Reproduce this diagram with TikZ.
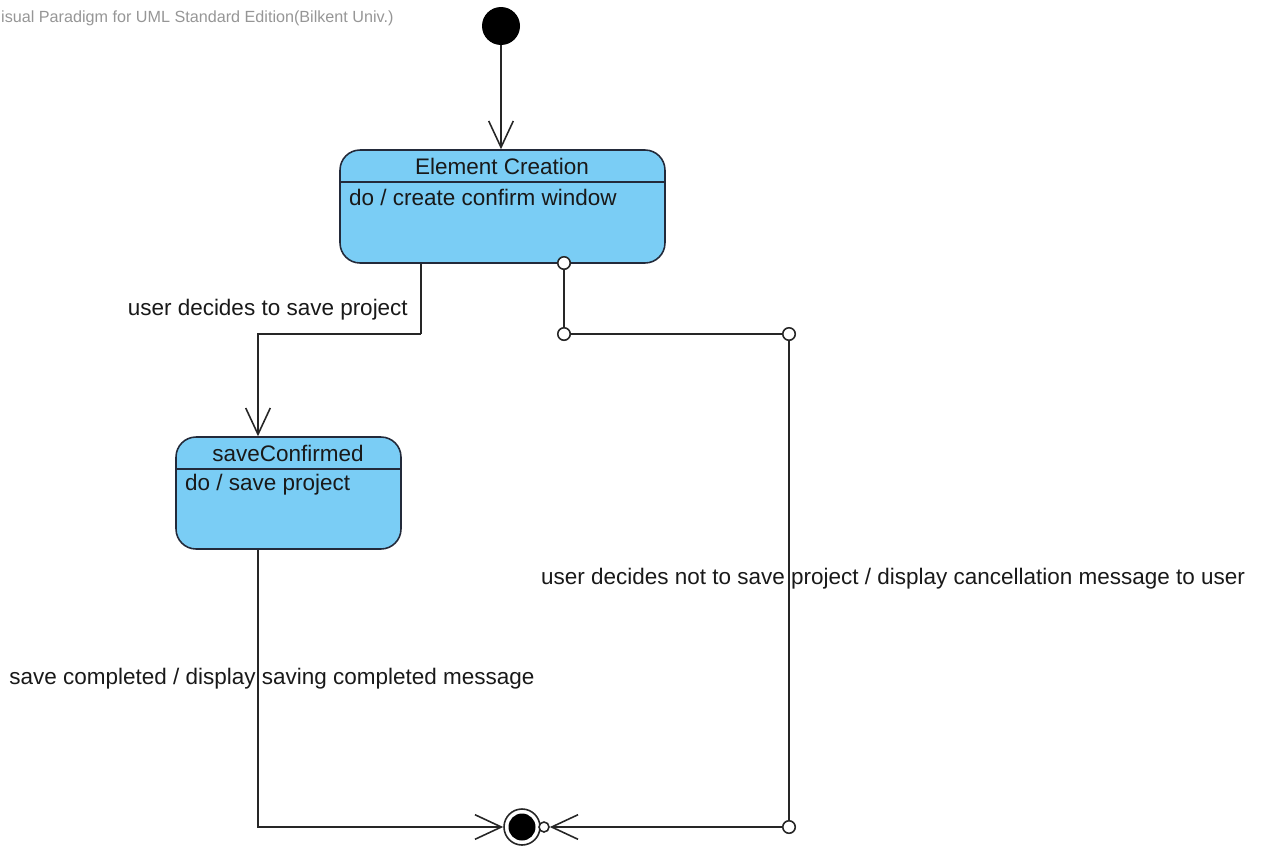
\documentclass[tikz,border=0pt]{standalone}
\usepackage{fontspec}
\setmainfont{Liberation Sans}
\usetikzlibrary{arrows.meta, calc}
\definecolor{statefill}{RGB}{122,205,245}
\definecolor{stateline}{RGB}{35,42,58}
\definecolor{markgray}{RGB}{150,150,150}
\tikzstyle{state} = [%
					draw = stateline,
					fill = statefill,
					rectangle,
					rounded corners = 0.4cm,
					line width = 0.9pt
					]
\tikzstyle{trans} = [%
					line width = 0.9pt,
					color = black!85,
					-{Straight Barb[length=15pt, width=14pt]}
					]
\tikzstyle{trans1} = [%
					line width = 0.9pt,
					color = black!85]
\tikzstyle{junction} = [%
					circle,
					draw = black!85,
					fill = white,
					line width = 0.9pt,
					inner sep = 0pt,
					minimum size = 0.25cm
					]

\begin{document}
\begin{tikzpicture}[x=0.02cm, y=-0.02cm, font=\fontsize{12.8}{15}\selectfont, text=black!90]
		\useasboundingbox (0,0) rectangle (1261,849);
		
		% Watermark
		\node[anchor=west, inner xsep=0.5pt, text=markgray, font=\fontsize{9.2}{11}\selectfont] (mark) at (0,18) {isual Paradigm for UML Standard Edition(Bilkent Univ.)};
		
		% Coordinates
		\coordinate (K) at (421,334);
		\coordinate (L) at (258,334);
		\coordinate (M) at (258,827);
		
		% Nodes
		%% Initial / final
		\node[circle, fill=black, minimum size=0.76cm, inner sep=0pt] (init) at (501,26) {};
		\node[circle, draw=black!85, fill=white, line width=0.9pt, minimum size=0.72cm, inner sep=0pt] (fin) at (522,827) {};
		\node[circle, fill=black, minimum size=0.54cm, inner sep=0pt] (fin0) at (fin) {};
		%% States
		\node[state, minimum width=6.5cm, minimum height=2.26cm] (ec) at (502.5,206.5) {};
		\draw[stateline, line width=0.9pt] (ec.west |- 0,182) -- (ec.east |- 0,182);
		\node (ecname) at (502,166) {Element Creation};
		\node[anchor=west] (ecdo) at (343,197) {do / create confirm window};
		
		\node[state, minimum width=4.5cm, minimum height=2.24cm] (sc) at (288.5,493) {};
		\draw[stateline, line width=0.9pt] (sc.west |- 0,469) -- (sc.east |- 0,469);
		\node (scname) at (288,453) {saveConfirmed};
		\node[anchor=west] (scdo) at (179,485) {do / save project};
		%% Junctions
		\node[junction] (j1) at (564,263) {};
		\node[junction] (j2) at (564,334) {};
		\node[junction] (j3) at (789,334) {};
		\node[junction] (j4) at (789,827) {};
		
		% Labels
		\node[anchor=east] (lsave) at (414,310) {user decides to save project};
		\node (ldone) at (272,679) {save completed / display saving completed message};
		\node (lcancel) at (893,579) {user decides not to save project / display cancellation message to user};
		
		% Transitions
		\draw[trans] (init) -- (ec.north -| init);
		\draw[trans1] (ec.south -| K) -- (K);
		\draw[trans] (K) -- (L) -- (sc.north -| L);
		\draw[trans] (sc.south -| L) -- (M) -- (fin);
		\draw[trans1] (j1) -- (j2) -- (j3) -- (j4);
		\node[junction, minimum size=0.2cm] (j5) at (544,827) {};
		\draw[trans] (j4) -- (j5);
	\end{tikzpicture}
\end{document}
